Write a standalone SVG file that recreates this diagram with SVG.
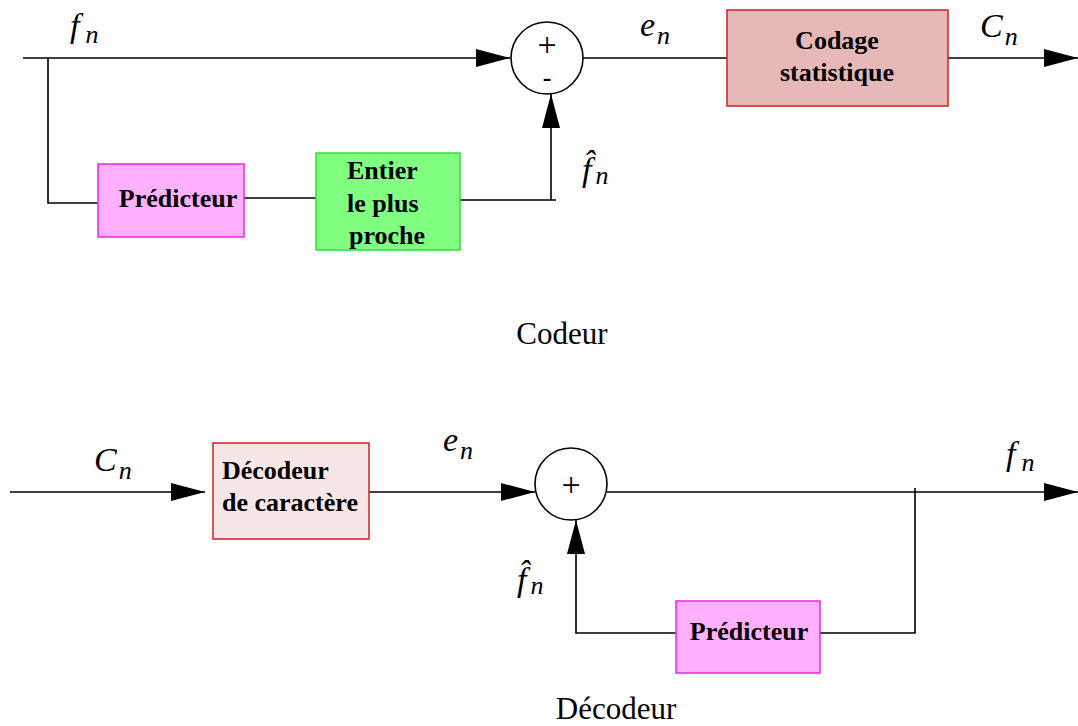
<svg xmlns="http://www.w3.org/2000/svg" width="1078" height="726" viewBox="0 0 1078 726">
<style>
.ln{stroke:#000;stroke-width:1.6;fill:none}
.bx{font-family:"Liberation Serif",serif;font-weight:bold;font-size:26px;fill:#000}
.it{font-family:"Liberation Serif",serif;font-style:italic;fill:#000}
.f{font-size:34px}
.s{font-size:26px}
.cap{font-family:"Liberation Serif",serif;font-size:31px;fill:#000}
.op{font-family:"Liberation Serif",serif;font-size:34px;fill:#000}
</style>
<defs>
<marker id="ar" markerWidth="34" markerHeight="18" refX="34" refY="9" orient="auto" markerUnits="userSpaceOnUse">
<path d="M0,0 L34,9 L0,18 Z" fill="#000"/>
</marker>
</defs>
<rect width="1078" height="726" fill="#fff"/>

<g id="connectors">
<path class="ln" d="M23,58 H510" marker-end="url(#ar)"/>
<path class="ln" d="M48,58 V203 H98"/>
<path class="ln" d="M244,198 H316"/>
<path class="ln" d="M460,200 H556"/>
<path class="ln" d="M551,200 V94" marker-end="url(#ar)"/>
<path class="ln" d="M583,58 H727"/>
<path class="ln" d="M948,58 H1078" marker-end="url(#ar)"/>
<path class="ln" d="M10,492 H205" marker-end="url(#ar)"/>
<path class="ln" d="M369,492 H535" marker-end="url(#ar)"/>
<path class="ln" d="M607,492 H1078" marker-end="url(#ar)"/>
<path class="ln" d="M915,488 V633 H820"/>
<path class="ln" d="M676,633 H576 V520" marker-end="url(#ar)"/>
</g>

<g id="sum1">
<circle cx="547" cy="58" r="36" fill="#fff" stroke="#000" stroke-width="1.6"/>
<text class="op" x="547" y="56" text-anchor="middle">+</text>
<text class="bx" x="547" y="86" text-anchor="middle">-</text>
</g>
<g id="codage">
<rect x="727" y="10" width="221" height="96" fill="#e6b8b8" stroke="#cc2222" stroke-width="1.5"/>
<text class="bx" x="837" y="49" text-anchor="middle">Codage</text>
<text class="bx" x="837" y="81" text-anchor="middle">statistique</text>
</g>
<g id="pred1">
<rect x="98" y="164" width="146" height="73" fill="#ffb0ff" stroke="#ee22ee" stroke-width="1.5"/>
<text class="bx" x="178" y="207" text-anchor="middle">Prédicteur</text>
</g>
<g id="entier">
<rect x="316" y="153" width="144" height="97" fill="#80ff80" stroke="#33dd33" stroke-width="1.5"/>
<text class="bx" x="347" y="179">Entier</text>
<text class="bx" x="347" y="212">le plus</text>
<text class="bx" x="349" y="244">proche</text>
</g>

<g id="labels-top">
<text class="it f" x="70" y="37">f<tspan class="s" dx="6" dy="6">n</tspan></text>
<text class="it f" x="640" y="36">e<tspan class="s" dx="2" dy="8">n</tspan></text>
<text class="it f" x="980" y="37">C<tspan class="s" dx="2" dy="8">n</tspan></text>
<text class="it f" x="582" y="181">f&#x302;<tspan class="s" dx="4" dy="3">n</tspan></text>
<text class="cap" x="562" y="344" text-anchor="middle">Codeur</text>
</g>

<g id="decodeur">
<rect x="213" y="443" width="156" height="96" fill="#f7e6e6" stroke="#cc2222" stroke-width="1.5"/>
<text class="bx" x="222" y="479">Décodeur</text>
<text class="bx" x="222" y="511">de caractère</text>
</g>
<g id="sum2">
<circle cx="571" cy="484" r="36" fill="#fff" stroke="#000" stroke-width="1.6"/>
<text class="op" x="571" y="496" text-anchor="middle">+</text>
</g>
<g id="pred2">
<rect x="676" y="601" width="144" height="72" fill="#ffb0ff" stroke="#ee22ee" stroke-width="1.5"/>
<text class="bx" x="749" y="640" text-anchor="middle">Prédicteur</text>
</g>

<g id="labels-bottom">
<text class="it f" x="94" y="471">C<tspan class="s" dx="2" dy="8">n</tspan></text>
<text class="it f" x="443" y="451">e<tspan class="s" dx="2" dy="8">n</tspan></text>
<text class="it f" x="1006" y="465">f<tspan class="s" dx="6" dy="6">n</tspan></text>
<text class="it f" x="517" y="591">f&#x302;<tspan class="s" dx="4" dy="3">n</tspan></text>
<text class="cap" x="616" y="719" text-anchor="middle">Décodeur</text>
</g>
</svg>
